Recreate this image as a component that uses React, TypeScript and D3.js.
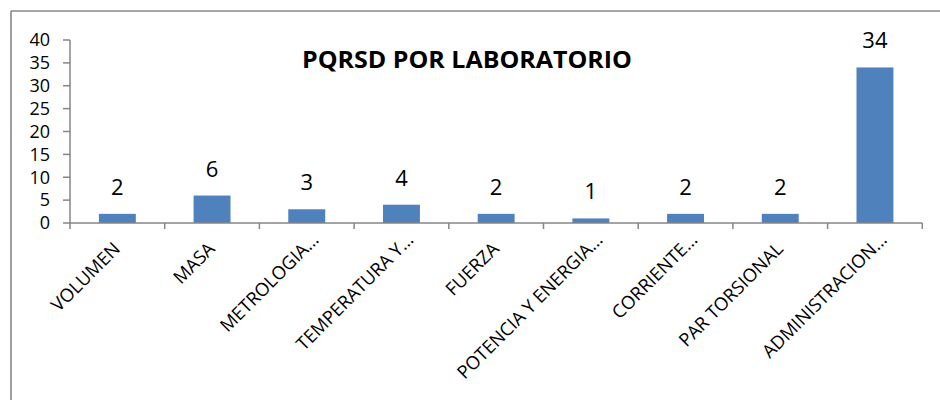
import React from "react";
import * as d3 from "d3";

const categories = [
  "VOLUMEN",
  "MASA",
  "METROLOGIA…",
  "TEMPERATURA Y…",
  "FUERZA",
  "POTENCIA Y ENERGIA…",
  "CORRIENTE…",
  "PAR TORSIONAL",
  "ADMINISTRACION…",
];
const values = [2, 6, 3, 4, 2, 1, 2, 2, 34];
const yTicks = [0, 5, 10, 15, 20, 25, 30, 35, 40];
const title = "PQRSD POR LABORATORIO";

const W = 940;
const H = 400;
const left = 70;
const right = 922.3;
const top = 40;
const bottom = 223;
const FONT = "'Open Sans', sans-serif";
const AXIS = "#868686";

export default function App() {
  const x = d3
    .scaleBand<string>()
    .domain(categories)
    .range([left, right])
    .paddingInner(0.61)
    .paddingOuter(0.305);
  const xb = d3.scaleBand<string>().domain(categories).range([left, right]);
  const y = d3.scaleLinear().domain([0, 40]).range([bottom, top]);
  const edges = categories.map((c) => xb(c) as number).concat([right]);

  return (
    <svg width={W} height={H} style={{ position: "absolute", left: 0, top: 0, background: "#fff" }}>
      <rect x={0} y={0} width={W} height={H} fill="#fff" />
      {/* chart border (left & top visible) */}
      <line x1={11} y1={11} x2={W + 5} y2={11} stroke="#888" strokeWidth={1.6} />
      <line x1={11} y1={11} x2={11} y2={H + 5} stroke="#888" strokeWidth={1.6} />

      <text
        x={302}
        y={68}
        textLength={330}
        lengthAdjust="spacingAndGlyphs"
        fontFamily={FONT}
        fontWeight="bold"
        fontSize={23}
        fill="#000"
      >
        {title}
      </text>

      {/* bars */}
      {categories.map((c, i) => (
        <rect key={c} x={x(c)} y={y(values[i])} width={x.bandwidth()} height={bottom - y(values[i])} fill="#4F81BD" />
      ))}

      {/* data labels */}
      {categories.map((c, i) => (
        <text
          key={"l" + c}
          x={(x(c) as number) + x.bandwidth() / 2}
          y={y(values[i]) - 19}
          textAnchor="middle"
          fontFamily={FONT}
          fontSize={22}
          fill="#000"
        >
          {values[i]}
        </text>
      ))}

      {/* y axis */}
      <line x1={left} y1={top} x2={left} y2={bottom} stroke={AXIS} strokeWidth={1.5} />
      {yTicks.map((t) => (
        <g key={"y" + t}>
          <line x1={63} x2={left} y1={y(t)} y2={y(t)} stroke={AXIS} strokeWidth={1.5} />
          <text x={50} y={y(t) + 6.3} textAnchor="end" fontFamily={FONT} fontSize={18} fill="#000">
            {t}
          </text>
        </g>
      ))}

      {/* x axis */}
      <line x1={left} y1={bottom} x2={right} y2={bottom} stroke={AXIS} strokeWidth={1.5} />
      {edges.map((e, i) => (
        <line key={"xt" + i} x1={e} x2={e} y1={bottom} y2={229} stroke={AXIS} strokeWidth={1.5} />
      ))}
      {categories.map((c) => {
        const trunc = c.endsWith("…");
        const shift = trunc ? 9 : 0;
        const cx = (xb(c) as number) + xb.bandwidth() / 2 + 4 + shift;
        const cy = 250 - shift;
        return (
          <text
            key={"c" + c}
            transform={`translate(${cx},${cy}) rotate(-45)`}
            textAnchor="end"
            fontFamily={FONT}
            fontSize={18.3}
            fill="#000"
          >
            {c}
          </text>
        );
      })}
    </svg>
  );
}
